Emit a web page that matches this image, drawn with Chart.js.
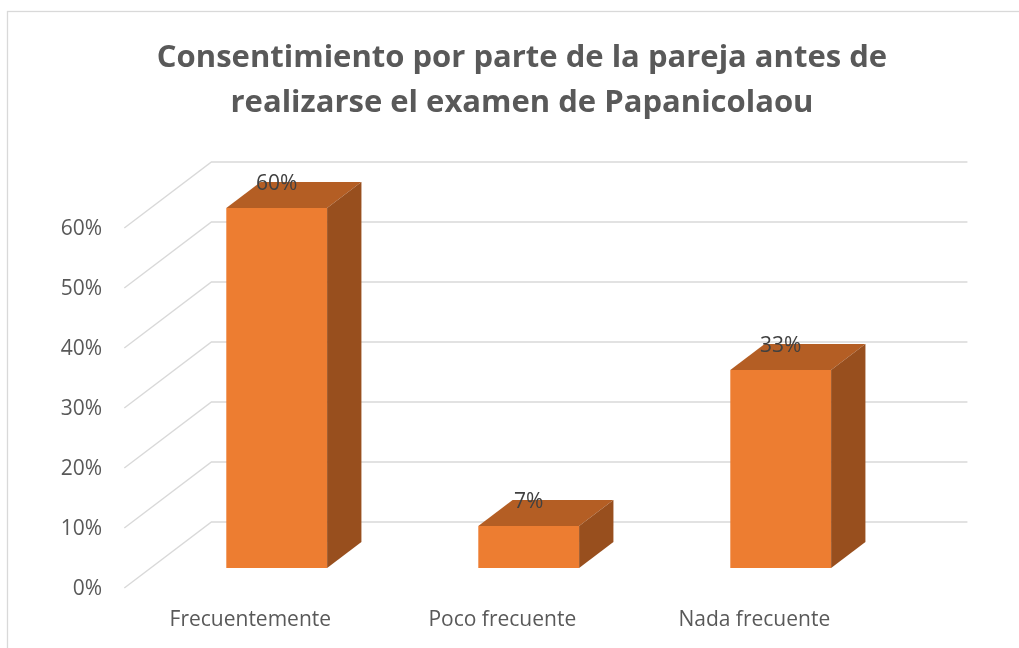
<!DOCTYPE html>
<html>
<head>
<meta charset="utf-8">
<script src="https://cdn.jsdelivr.net/npm/chart.js@4/dist/chart.umd.min.js"></script>
<style>
  html, body { margin: 0; padding: 0; background: #ffffff; overflow: hidden; }
  canvas { display: block; }
</style>
</head>
<body>
<canvas id="c" width="1019" height="648"></canvas>
<script>
// ---- data ----
const categories = ['Frecuentemente', 'Poco frecuente', 'Nada frecuente'];
const values = [60, 7, 33];
const valueLabels = ['60%', '7%', '33%'];
const titleLines = ['Consentimiento por parte de la pareja antes de', 'realizarse el examen de Papanicolaou'];
const yMin = 0, yMax = 60, yStep = 10;

// ---- 3D look ----
const RATIO = 1.32;          // dx per dy of depth
const FRONT_DY = 20;         // axis (front) plane below bar front
const BAR_DY = 26;           // bar depth
const WALL_DY = 46;          // back wall behind bar front
const FONT = '"Open Sans", "Noto Sans", sans-serif';
const LABEL_SIZE = 21;

const frame = {
  id: 'frame',
  beforeDraw(chart) {
    const ctx = chart.ctx;
    ctx.save();
    ctx.fillStyle = '#ffffff';
    ctx.fillRect(0, 0, chart.width, chart.height);
    ctx.strokeStyle = '#d9d9d9';
    ctx.lineWidth = 1.3;
    ctx.strokeRect(7.5, 11.5, chart.width + 20, chart.height + 20);
    ctx.restore();
  }
};

const grid3d = {
  id: 'grid3d',
  beforeDatasetsDraw(chart) {
    const ctx = chart.ctx, y = chart.scales.y, a = chart.chartArea;
    ctx.save();
    ctx.strokeStyle = '#d9d9d9';
    ctx.lineWidth = 1.4;
    y.ticks.forEach(t => {
      const p = y.getPixelForValue(t.value);
      const fx = a.left - FRONT_DY * RATIO, fy = p + FRONT_DY;
      const bx = a.left + WALL_DY * RATIO, by = p - WALL_DY;
      const rx = a.right + WALL_DY * RATIO;
      ctx.beginPath();
      ctx.moveTo(fx, fy);
      ctx.lineTo(bx, by);
      ctx.lineTo(rx, by);
      ctx.stroke();
    });
    ctx.restore();
  }
};

const bars3d = {
  id: 'bars3d',
  afterDatasetsDraw(chart) {
    const ctx = chart.ctx;
    const meta = chart.getDatasetMeta(0);
    const dx = BAR_DY * RATIO, dy = BAR_DY;
    ctx.save();
    meta.data.forEach((bar, i) => {
      const {x, y, base, width} = bar.getProps(['x', 'y', 'base', 'width'], true);
      const x1 = x - width / 2, x2 = x + width / 2;
      // top
      ctx.fillStyle = '#b45e24';
      ctx.beginPath();
      ctx.moveTo(x1, y); ctx.lineTo(x2, y); ctx.lineTo(x2 + dx, y - dy); ctx.lineTo(x1 + dx, y - dy);
      ctx.closePath(); ctx.fill();
      // side
      ctx.fillStyle = '#984f1e';
      ctx.beginPath();
      ctx.moveTo(x2, y); ctx.lineTo(x2 + dx, y - dy); ctx.lineTo(x2 + dx, base - dy); ctx.lineTo(x2, base);
      ctx.closePath(); ctx.fill();
      // value label
      ctx.fillStyle = '#404040';
      ctx.font = LABEL_SIZE + 'px ' + FONT;
      ctx.textAlign = 'center';
      ctx.textBaseline = 'middle';
      ctx.fillText(valueLabels[i], x, y - 23.5);
    });
    ctx.restore();
  }
};

new Chart(document.getElementById('c'), {
  type: 'bar',
  data: {
    labels: categories,
    datasets: [{
      data: values,
      backgroundColor: '#ed7d31',
      borderWidth: 0,
      categoryPercentage: 0.4,
      barPercentage: 1.0,
      yAxisID: 'y'
    }]
  },
  options: {
    responsive: false,
    animation: false,
    devicePixelRatio: 1,
    layout: { padding: { left: 45, right: 20, top: 0, bottom: 0 } },
    plugins: {
      legend: { display: false },
      tooltip: { enabled: false },
      title: {
        display: true,
        text: titleLines,
        color: '#595959',
        font: { family: FONT, size: 31, weight: 'bold', lineHeight: 45 / 31 },
        padding: { top: 35.5, bottom: 82.5 }
      }
    },
    scales: {
      x: {
        grid: { display: false, drawTicks: false },
        border: { display: false },
        ticks: { color: '#595959', font: { family: FONT, size: LABEL_SIZE }, padding: 39.4, labelOffset: -FRONT_DY * RATIO, maxRotation: 0 },
        afterFit(s) { s.height = 80; }
      },
      y: {
        position: 'left',
        min: yMin, max: yMax,
        grid: { display: false, drawTicks: false },
        border: { display: false },
        ticks: { stepSize: yStep, color: '#595959', font: { family: FONT, size: LABEL_SIZE }, padding: 48.7, labelOffset: FRONT_DY + 1.5, callback: v => v + '%' },
        afterFit(s) { s.width = 150.7 - 45; }
      },
      yRight: {
        position: 'right',
        min: yMin, max: yMax,
        grid: { display: false, drawTicks: false },
        border: { display: false },
        ticks: { display: false },
        afterFit(s) { s.width = 1019 - 20 - 906.7; }
      }
    }
  },
  plugins: [frame, grid3d, bars3d]
});
</script>
</body>
</html>
